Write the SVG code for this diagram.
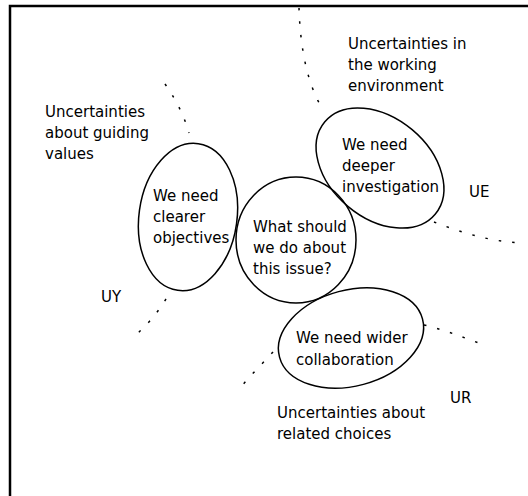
<svg xmlns="http://www.w3.org/2000/svg" width="528" height="496" viewBox="0 0 528 496">
<style>
text{font-family:"DejaVu Sans","Liberation Sans",sans-serif;font-size:15px;fill:#000}
.node{fill:none;stroke:#000;stroke-width:1.5}
.dots{fill:none;stroke:#000;stroke-width:1.5;stroke-dasharray:2.5 11}
</style>
<rect width="528" height="496" fill="#fff"/>
<path d="M10,497 V6 H529" fill="none" stroke="#000" stroke-width="2.5"/>
<g id="connectors">
<path class="dots" d="M299,8 C300,40 305,80 322,108"/>
<path class="dots" d="M434,222 C460,232 490,242 524,243"/>
<path class="dots" d="M165,84 C175,98 184,115 189,133"/>
<path class="dots" d="M166,299 C158,312 148,324 137,334"/>
<path class="dots" d="M273,352 C262,364 250,376 240,388"/>
<path class="dots" d="M424,325 C445,330 465,338 487,346"/>
</g>
<g id="labels">
<text x="348" y="49">Uncertainties in</text>
<text x="348" y="70">the working</text>
<text x="348" y="91">environment</text>
<text x="45" y="117">Uncertainties</text>
<text x="45" y="138">about guiding</text>
<text x="45" y="159">values</text>
<text x="469" y="197">UE</text>
<text x="101" y="302">UY</text>
<text x="450" y="403">UR</text>
<text x="277" y="418">Uncertainties about</text>
<text x="277" y="439">related choices</text>
</g>
<g id="node-objectives">
<ellipse class="node" cx="188" cy="217" rx="49" ry="74" transform="rotate(8 188 217)"/>
<text x="153" y="201">We need</text>
<text x="153" y="222">clearer</text>
<text x="153" y="243">objectives</text>
</g>
<g id="node-issue">
<ellipse class="node" cx="296" cy="240" rx="60" ry="63"/>
<text x="253" y="232">What should</text>
<text x="253" y="253">we do about</text>
<text x="253" y="274">this issue?</text>
</g>
<g id="node-investigation">
<ellipse class="node" cx="380" cy="168" rx="72" ry="50" transform="rotate(40 380 168)"/>
<text x="342" y="150">We need</text>
<text x="342" y="171">deeper</text>
<text x="342" y="192">investigation</text>
</g>
<g id="node-collaboration">
<ellipse class="node" cx="351" cy="338" rx="74" ry="48" transform="rotate(-15 351 338)"/>
<text x="296" y="343">We need wider</text>
<text x="296" y="365">collaboration</text>
</g>
</svg>
